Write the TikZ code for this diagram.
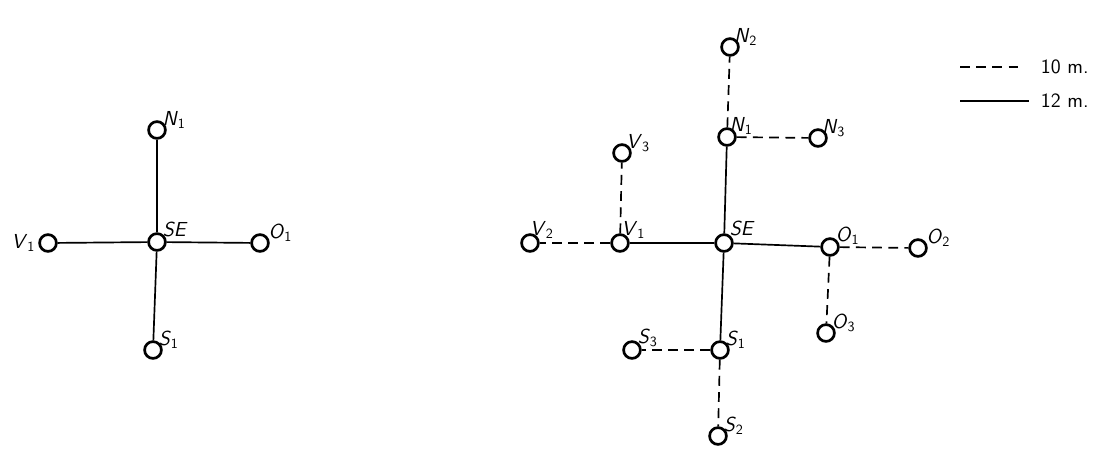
\documentclass[tikz,border=0pt]{standalone}
\usepackage{tikz}
\usetikzlibrary{positioning}

\newcommand{\lbl}[2]{\textsf{\textit{#1}}\textsubscript{\textsf{#2}}}

\tikzset{
    stn/.style={circle,draw,line width=1.9pt,minimum size=0.42cm,inner sep=0pt},
    tag/.style={font=\Large,inner sep=0pt},
    full/.style={draw=black,line width=1.2pt},
    dsh/.style={draw=black,line width=1.2pt,dash pattern=on 7pt off 4.5pt}
}

\begin{document}
\begin{tikzpicture}[x=0.025cm,y=-0.025cm]
    \useasboundingbox (0,0) rectangle (1103,450);

    % left: one step
    \node[stn] (lN1) at (157,130) {};
    \node[stn] (lSE) at (157,242) {};
    \node[stn] (lV1) at (48,243) {};
    \node[stn] (lO1) at (260,243) {};
    \node[stn] (lS1) at (153,350) {};

    \node[tag, above right=-4pt and -1pt of lN1] {\lbl{N}{1}};
    \node[tag, above right=-3pt and -1pt of lSE] {\lbl{SE}{}};
    \node[tag, left=2pt of lV1] {\lbl{V}{1}};
    \node[tag, above right=-4pt and 1pt of lO1] {\lbl{O}{1}};
    \node[tag, above right=-4pt and -1pt of lS1] {\lbl{S}{1}};

    \path (lSE) edge[full] (lN1)
          (lSE) edge[full] (lV1)
          (lSE) edge[full] (lO1)
          (lSE) edge[full] (lS1);

    % right: two steps
    \node[stn] (SE) at (724,243) {};
    \node[stn] (N1) at (727,137) {};
    \node[stn] (N2) at (730,47) {};
    \node[stn] (N3) at (818,138) {};
    \node[stn] (V1) at (620,243) {};
    \node[stn] (V2) at (530,243) {};
    \node[stn] (V3) at (622,153) {};
    \node[stn] (O1) at (830,247) {};
    \node[stn] (O2) at (918,248) {};
    \node[stn] (O3) at (826,333) {};
    \node[stn] (S1) at (720,350) {};
    \node[stn] (S2) at (718,436) {};
    \node[stn] (S3) at (632,350) {};

    \node[tag, above right=-2pt and -1pt of SE] {\lbl{SE}{}};
    \node[tag, above right=-3pt and -3pt of N1] {\lbl{N}{1}};
    \node[tag, above right=-4pt and -2pt of N2] {\lbl{N}{2}};
    \node[tag, above right=-4pt and -2pt of N3] {\lbl{N}{3}};
    \node[tag, above right=-2pt and -4pt of V1] {\lbl{V}{1}};
    \node[tag, above right=-2pt and -5pt of V2] {\lbl{V}{2}};
    \node[tag, above right=-4pt and -2pt of V3] {\lbl{V}{3}};
    \node[tag, above right=-3pt and -1pt of O1] {\lbl{O}{1}};
    \node[tag, above right=-4pt and 1pt of O2] {\lbl{O}{2}};
    \node[tag, above right=-4pt and -1pt of O3] {\lbl{O}{3}};
    \node[tag, above right=-4pt and -1pt of S1] {\lbl{S}{1}};
    \node[tag, above right=-4pt and -1pt of S2] {\lbl{S}{2}};
    \node[tag, above right=-3pt and -1pt of S3] {\lbl{S}{3}};

    \path (SE) edge[full] (N1)
          (SE) edge[full] (V1)
          (SE) edge[full] (O1)
          (SE) edge[full] (S1);
    \path (N1) edge[dsh] (N2)
          (N1) edge[dsh] (N3)
          (V1) edge[dsh] (V2)
          (V1) edge[dsh] (V3)
          (O1) edge[dsh] (O2)
          (O1) edge[dsh] (O3)
          (S1) edge[dsh] (S2)
          (S1) edge[dsh] (S3);

    % legend
    \node[font=\Large\sffamily, anchor=west] (m10) at (1036,67) {10 m.};
    \node[font=\Large\sffamily, anchor=west] (m12) at (1036,101) {12 m.};
    \coordinate (k10) at (960,67);
    \coordinate (k12) at (960,101);
    \draw[dsh] (k10) -- ([xshift=-10pt]m10.west);
    \draw[full] (k12) -- ([xshift=-5pt]m12.west);
\end{tikzpicture}
\end{document}
